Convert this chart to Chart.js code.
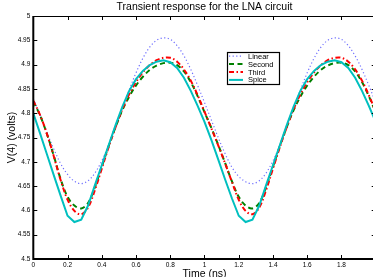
<!DOCTYPE html>
<html>
<head>
<meta charset="utf-8">
<script src="https://cdn.jsdelivr.net/npm/chart.js@4.4.0/dist/chart.umd.min.js"></script>
<style>
  html, body { margin: 0; padding: 0; background: #fff; overflow: hidden; }
  #wrap { width: 380px; height: 280px; }
</style>
</head>
<body>
<div id="wrap"><canvas id="chart" width="380" height="280"></canvas></div>
<script>
// time axis (ns)
const times = [0, 0.04, 0.08, 0.12, 0.16, 0.2, 0.24, 0.28, 0.32, 0.36,
  0.4, 0.44, 0.48, 0.52, 0.56, 0.6, 0.64, 0.68, 0.72, 0.76,
  0.8, 0.84, 0.88, 0.92, 0.96, 1, 1.04, 1.08, 1.12, 1.16,
  1.2, 1.24, 1.28, 1.32, 1.36, 1.4, 1.44, 1.48, 1.52, 1.56,
  1.6, 1.64, 1.68, 1.72, 1.76, 1.8, 1.84, 1.88, 1.92, 1.96, 2];

// V(4) in volts
const linear = [4.830, 4.797, 4.760, 4.726, 4.696, 4.674, 4.660, 4.655, 4.661, 4.677,
  4.702, 4.734, 4.771, 4.810, 4.848, 4.883, 4.913, 4.936, 4.950, 4.955,
  4.952, 4.939, 4.918, 4.890, 4.857, 4.822, 4.786, 4.750, 4.717, 4.689,
  4.670, 4.659, 4.655, 4.661, 4.677, 4.702, 4.734, 4.771, 4.810, 4.848,
  4.883, 4.913, 4.936, 4.950, 4.955, 4.952, 4.939, 4.918, 4.890, 4.857, 4.822];

const second = [4.824, 4.795, 4.757, 4.712, 4.664, 4.628, 4.610, 4.604, 4.615, 4.648,
  4.690, 4.732, 4.771, 4.806, 4.834, 4.857, 4.875, 4.889, 4.898, 4.903,
  4.904, 4.899, 4.886, 4.864, 4.835, 4.802, 4.770, 4.735, 4.698, 4.660,
  4.628, 4.610, 4.604, 4.615, 4.648, 4.690, 4.732, 4.771, 4.806, 4.834,
  4.857, 4.875, 4.889, 4.898, 4.903, 4.904, 4.899, 4.886, 4.864, 4.835, 4.802];

const third = [4.826, 4.796, 4.757, 4.711, 4.662, 4.622, 4.599, 4.592, 4.606, 4.642,
  4.686, 4.730, 4.771, 4.808, 4.839, 4.864, 4.884, 4.899, 4.909, 4.914,
  4.914, 4.906, 4.890, 4.867, 4.837, 4.803, 4.769, 4.734, 4.697, 4.659,
  4.622, 4.599, 4.592, 4.606, 4.642, 4.686, 4.730, 4.771, 4.808, 4.839,
  4.864, 4.884, 4.899, 4.909, 4.914, 4.914, 4.906, 4.890, 4.867, 4.837, 4.803];

const spice = [4.800, 4.758, 4.715, 4.672, 4.630, 4.589, 4.576, 4.581, 4.610, 4.652,
  4.693, 4.734, 4.775, 4.813, 4.846, 4.870, 4.887, 4.899, 4.906, 4.909,
  4.905, 4.893, 4.873, 4.846, 4.815, 4.782, 4.745, 4.705, 4.664, 4.625,
  4.589, 4.576, 4.581, 4.610, 4.652, 4.693, 4.734, 4.775, 4.813, 4.846,
  4.870, 4.887, 4.899, 4.906, 4.909, 4.905, 4.893, 4.873, 4.846, 4.815, 4.782];

const xTicks = [0, 0.2, 0.4, 0.6, 0.8, 1, 1.2, 1.4, 1.6, 1.8, 2];
const xTickLabels = ['0', '0.2', '0.4', '0.6', '0.8', '1', '1.2', '1.4', '1.6', '1.8', '2'];
const yTicks = [4.5, 4.55, 4.6, 4.65, 4.7, 4.75, 4.8, 4.85, 4.9, 4.95, 5];
const yTickLabels = ['4.5', '4.55', '4.6', '4.65', '4.7', '4.75', '4.8', '4.85', '4.9', '4.95', '5'];

const FONT = "'Liberation Sans', Arial, Helvetica, sans-serif";
Chart.defaults.font.family = FONT;
Chart.defaults.color = '#000';

const pts = (vals) => times.map((t, i) => ({x: t, y: vals[i]}));

// box, inward ticks and legend, drawn matlab style
const framePlugin = {
  id: 'frame',
  afterDatasetsDraw(chart) {
    const {ctx, chartArea: a, scales: {x, y}} = chart;
    ctx.save();
    ctx.strokeStyle = '#000';
    ctx.setLineDash([]);

    ctx.lineWidth = 1;
    ctx.beginPath();
    ctx.moveTo(a.left, a.top + 0.5);
    ctx.lineTo(a.right, a.top + 0.5);
    ctx.moveTo(a.right - 0.5, a.top);
    ctx.lineTo(a.right - 0.5, a.bottom);
    xTicks.forEach(v => {
      const px = Math.round(x.getPixelForValue(v)) + 0.5;
      ctx.moveTo(px, a.bottom);
      ctx.lineTo(px, a.bottom - 4);
      ctx.moveTo(px, a.top);
      ctx.lineTo(px, a.top + 4);
    });
    yTicks.forEach(v => {
      const py = Math.round(y.getPixelForValue(v)) + 0.5;
      ctx.moveTo(a.left, py);
      ctx.lineTo(a.left + 4, py);
      ctx.moveTo(a.right, py);
      ctx.lineTo(a.right - 4, py);
    });
    ctx.stroke();

    ctx.lineWidth = 2;
    ctx.beginPath();
    ctx.moveTo(a.left, a.top);
    ctx.lineTo(a.left, a.bottom);
    ctx.lineTo(a.right, a.bottom);
    ctx.stroke();

    // legend
    const lx = 227, ly = 52, lw = 52, lh = 32;
    ctx.fillStyle = '#fff';
    ctx.fillRect(lx, ly, lw, lh);
    ctx.lineWidth = 1.2;
    ctx.strokeRect(lx + 0.5, ly + 0.5, lw, lh);
    ctx.font = '7.5px ' + FONT;
    ctx.textBaseline = 'middle';
    ctx.textAlign = 'left';
    chart.data.datasets.forEach((ds, i) => {
      const yy = ly + 4.2 + i * 7.9;
      ctx.strokeStyle = ds.borderColor;
      ctx.lineWidth = ds.borderWidth;
      ctx.setLineDash(ds.borderDash || []);
      ctx.beginPath();
      ctx.moveTo(lx + 2, yy);
      ctx.lineTo(lx + 16, yy);
      ctx.stroke();
      ctx.fillStyle = '#000';
      ctx.fillText(ds.label, lx + 21, yy + 0.5);
    });
    ctx.restore();
  }
};

new Chart(document.getElementById('chart'), {
  type: 'line',
  data: {
    datasets: [
      {label: 'Linear', data: pts(linear), borderColor: '#6f6fff', borderWidth: 1.2,
        borderDash: [1.2, 2.4], tension: 0.35, order: 4},
      {label: 'Second', data: pts(second), borderColor: '#008000', borderWidth: 2,
        borderDash: [5, 3.5], tension: 0.35, order: 3},
      {label: 'Third', data: pts(third), borderColor: '#ff0000', borderWidth: 2,
        borderDash: [5, 2.5, 1.5, 2.5], tension: 0.35, order: 2},
      {label: 'Spice', data: pts(spice), borderColor: '#00bfbf', borderWidth: 2,
        tension: 0, order: 1}
    ]
  },
  options: {
    responsive: false,
    animation: false,
    devicePixelRatio: 1,
    layout: {padding: {left: 0, right: 4.2, top: 0, bottom: 0}},
    elements: {point: {radius: 0}},
    plugins: {
      legend: {display: false},
      tooltip: {enabled: false},
      title: {
        display: true,
        text: 'Transient response for the LNA circuit',
        fullSize: false,
        font: {size: 10.5, weight: 'normal'},
        color: '#000',
        padding: {top: 1, bottom: 2.4}
      }
    },
    scales: {
      x: {
        type: 'linear',
        min: 0,
        max: 2,
        grid: {display: false, drawTicks: false},
        border: {display: false},
        afterBuildTicks: s => { s.ticks = xTicks.map(v => ({value: v})); },
        afterFit: s => { s.height = 21; },
        ticks: {
          autoSkip: false,
          maxRotation: 0,
          padding: 2.5,
          font: {size: 6.5},
          callback: (v, i) => xTickLabels[i]
        },
        title: {display: true, text: 'Time (ns)', font: {size: 10.5}, padding: {top: 0, bottom: 0}}
      },
      y: {
        min: 4.5,
        max: 5,
        grid: {display: false, drawTicks: false},
        border: {display: false},
        afterBuildTicks: s => { s.ticks = yTicks.map(v => ({value: v})); },
        afterFit: s => { s.width = 33.3; },
        ticks: {
          autoSkip: false,
          padding: 3,
          font: {size: 6.5},
          callback: (v, i) => yTickLabels[i]
        },
        title: {display: true, text: 'V(4) (volts)', font: {size: 10.5}, padding: {top: 6, bottom: 0}}
      }
    }
  },
  plugins: [framePlugin]
});
</script>
</body>
</html>
